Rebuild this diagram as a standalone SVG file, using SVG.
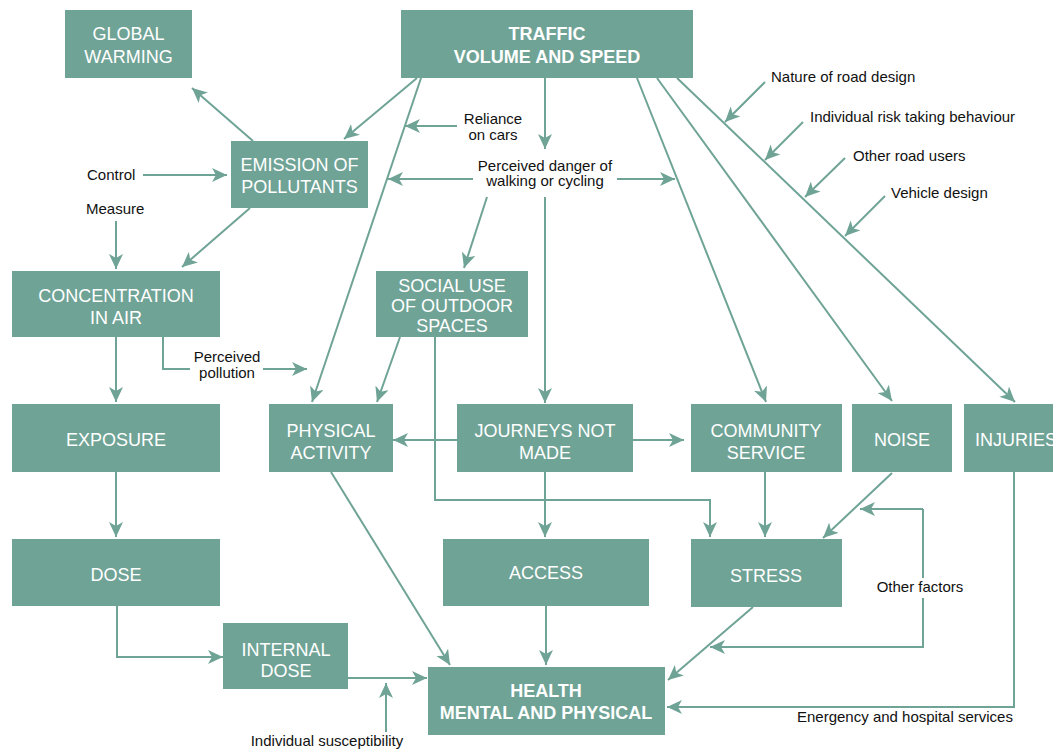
<svg xmlns="http://www.w3.org/2000/svg" width="1053" height="749" viewBox="0 0 1053 749">
<defs>
<style>
.box{fill:#6fa396;}
.bt{font-family:"Liberation Sans",Arial,sans-serif;font-size:18px;fill:#fff;text-anchor:middle;}
.bb{font-weight:bold;}
.lab{font-family:"Liberation Sans",Arial,sans-serif;font-size:15px;fill:#111;}
.c{fill:none;stroke:#6fa396;stroke-width:2;}
.a{marker-end:url(#ah);}
</style>
<marker id="ah" markerUnits="userSpaceOnUse" markerWidth="18" markerHeight="14" refX="15" refY="7" orient="auto">
<path d="M0,0 L15,7 L0,14 L4,7 Z" fill="#6fa396"/>
</marker>
</defs>
<rect width="1053" height="749" fill="#fff"/>

<g id="connectors">
<line class="c a" x1="253" y1="141" x2="192" y2="88"/>
<line class="c a" x1="417" y1="78" x2="344" y2="139"/>
<line class="c a" x1="421" y1="78" x2="312" y2="402"/>
<line class="c a" x1="545" y1="78" x2="545" y2="149"/>
<line class="c a" x1="457" y1="126" x2="405" y2="126"/>
<line class="c a" x1="473" y1="179" x2="388" y2="179"/>
<line class="c a" x1="617" y1="179" x2="675" y2="179"/>
<line class="c a" x1="487" y1="197" x2="464" y2="268"/>
<line class="c a" x1="545" y1="197" x2="545" y2="403"/>
<line class="c a" x1="637" y1="78" x2="766" y2="402"/>
<line class="c a" x1="657" y1="78" x2="892" y2="401"/>
<line class="c a" x1="677" y1="78" x2="1015" y2="402"/>
<line class="c a" x1="765" y1="82" x2="725" y2="122"/>
<line class="c a" x1="803" y1="122" x2="765" y2="160"/>
<line class="c a" x1="845" y1="158" x2="805" y2="197"/>
<line class="c a" x1="885" y1="196" x2="845" y2="236"/>
<line class="c a" x1="143" y1="175" x2="227" y2="175"/>
<line class="c a" x1="116" y1="221" x2="116" y2="269"/>
<line class="c a" x1="250" y1="208" x2="182" y2="267"/>
<line class="c a" x1="116" y1="337" x2="116" y2="402"/>
<polyline class="c" points="163,337 163,369 190,369"/>
<line class="c a" x1="263" y1="369" x2="307" y2="369"/>
<line class="c a" x1="400" y1="337" x2="377" y2="402"/>
<line class="c a" x1="457" y1="440" x2="393" y2="440"/>
<line class="c a" x1="633" y1="440" x2="684" y2="440"/>
<polyline class="c a" points="435,337 435,500 710,500 710,537"/>
<line class="c a" x1="545" y1="472" x2="545" y2="537"/>
<line class="c a" x1="765" y1="472" x2="765" y2="537"/>
<line class="c a" x1="892" y1="473" x2="823" y2="538"/>
<polyline class="c" points="923,578 923,509"/>
<line class="c a" x1="923" y1="509" x2="860" y2="509"/>
<polyline class="c a" points="923,598 923,647 710,647"/>
<line class="c a" x1="753" y1="607" x2="668" y2="680"/>
<line class="c a" x1="116" y1="472" x2="116" y2="537"/>
<polyline class="c a" points="117,606 117,657 223,657"/>
<line class="c a" x1="348" y1="678" x2="427" y2="678"/>
<line class="c a" x1="386" y1="732" x2="386" y2="683"/>
<line class="c a" x1="331" y1="472" x2="450" y2="665"/>
<line class="c a" x1="546" y1="606" x2="546" y2="665"/>
<polyline class="c a" points="1014,472 1014,707 667,707"/>
</g>

<g id="global-warming"><rect class="box" x="65" y="10" width="127" height="68"/><text class="bt" x="128.5" y="40">GLOBAL</text><text class="bt" x="128.5" y="62.5">WARMING</text></g>
<g id="traffic"><rect class="box" x="401" y="10" width="292" height="68"/><text class="bt bb" x="547" y="40">TRAFFIC</text><text class="bt bb" x="547" y="62.5">VOLUME AND SPEED</text></g>
<g id="emission"><rect class="box" x="231" y="141" width="137" height="67"/><text class="bt" x="299.5" y="171">EMISSION OF</text><text class="bt" x="299.5" y="192.5">POLLUTANTS</text></g>
<g id="concentration"><rect class="box" x="12" y="271" width="208" height="66"/><text class="bt" x="116" y="301.7">CONCENTRATION</text><text class="bt" x="116" y="324">IN AIR</text></g>
<g id="social-use"><rect class="box" x="376" y="271" width="152" height="66"/><text class="bt" x="452" y="291.7">SOCIAL USE</text><text class="bt" x="452" y="311.7">OF OUTDOOR</text><text class="bt" x="452" y="331.7">SPACES</text></g>
<g id="exposure"><rect class="box" x="12" y="404" width="208" height="68"/><text class="bt" x="116" y="446">EXPOSURE</text></g>
<g id="physical-activity"><rect class="box" x="269" y="404" width="124" height="68"/><text class="bt" x="331" y="436.7">PHYSICAL</text><text class="bt" x="331" y="459">ACTIVITY</text></g>
<g id="journeys"><rect class="box" x="457" y="404" width="176" height="68"/><text class="bt" x="545" y="436.7">JOURNEYS NOT</text><text class="bt" x="545" y="459">MADE</text></g>
<g id="community"><rect class="box" x="691" y="404" width="151" height="68"/><text class="bt" x="766" y="437">COMMUNITY</text><text class="bt" x="766" y="459">SERVICE</text></g>
<g id="noise"><rect class="box" x="852" y="404" width="100" height="68"/><text class="bt" x="902" y="446">NOISE</text></g>
<g id="injuries"><rect class="box" x="964" y="404" width="100" height="68"/><text class="bt" x="975" y="446" style="text-anchor:start">INJURIES</text></g>
<g id="dose"><rect class="box" x="12" y="539" width="208" height="67"/><text class="bt" x="116" y="580.7">DOSE</text></g>
<g id="internal-dose"><rect class="box" x="223" y="623" width="125" height="66"/><text class="bt" x="286" y="655.7">INTERNAL</text><text class="bt" x="286" y="676.7">DOSE</text></g>
<g id="access"><rect class="box" x="443" y="539" width="206" height="67"/><text class="bt" x="546" y="579">ACCESS</text></g>
<g id="stress"><rect class="box" x="691" y="539" width="151" height="68"/><text class="bt" x="766" y="582">STRESS</text></g>
<g id="health"><rect class="box" x="428" y="667" width="237" height="68"/><text class="bt bb" x="546" y="697.3">HEALTH</text><text class="bt bb" x="546" y="719">MENTAL AND PHYSICAL</text></g>

<g id="labels">
<text class="lab" x="87" y="180">Control</text>
<text class="lab" x="86" y="214">Measure</text>
<text class="lab" x="493" y="124" text-anchor="middle">Reliance</text>
<text class="lab" x="493" y="140" text-anchor="middle">on cars</text>
<text class="lab" x="545" y="171" text-anchor="middle">Perceived danger of</text>
<text class="lab" x="545" y="186" text-anchor="middle">walking or cycling</text>
<text class="lab" x="771" y="82">Nature of road design</text>
<text class="lab" x="810" y="122">Individual risk taking behaviour</text>
<text class="lab" x="853" y="160.5">Other road users</text>
<text class="lab" x="891" y="198">Vehicle design</text>
<text class="lab" x="227" y="362" text-anchor="middle">Perceived</text>
<text class="lab" x="227" y="378" text-anchor="middle">pollution</text>
<text class="lab" x="920" y="592" text-anchor="middle">Other factors</text>
<text class="lab" x="327" y="746" text-anchor="middle">Individual susceptibility</text>
<text class="lab" x="797" y="722">Energency and hospital services</text>
</g>
</svg>
